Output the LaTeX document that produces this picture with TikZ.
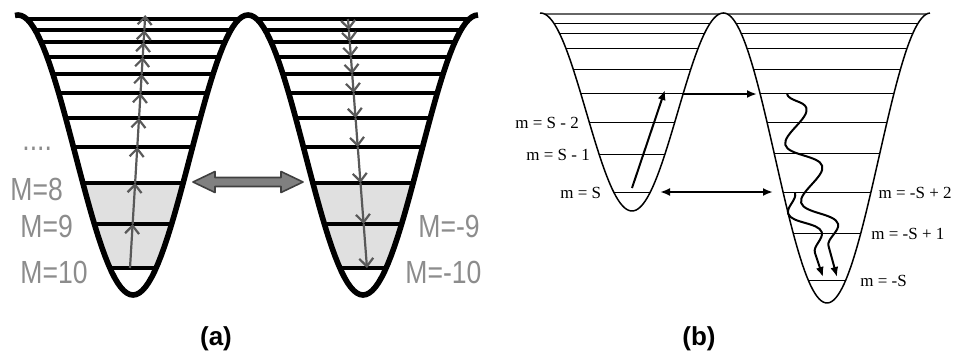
\documentclass[tikz,border=0pt]{standalone}
\usepackage{fontspec}
\usepackage{graphicx}
\setmainfont{Liberation Serif}
\newfontfamily\labelsans{Liberation Sans}
\usetikzlibrary{arrows.meta,decorations.pathmorphing}
\newcommand{\sqz}[1]{\scalebox{0.83}[1]{#1}}

\begin{document}
\begin{tikzpicture}[x=0.5pt,y=-0.5pt,
  >={Latex[length=5pt,width=4pt]},
  wella/.style={line width=2.8pt,line join=round},
  levela/.style={line width=1.8pt},
  hopa/.style={draw=black!65,line width=1.1pt,-{Straight Barb[length=4pt,width=7pt]}},
  mlabel/.style={anchor=base west,inner sep=0pt,text=black!45,font=\labelsans\fontsize{16pt}{16pt}\selectfont},
  wellb/.style={line width=0.75pt},
  levelb/.style={line width=0.45pt},
  slabel/.style={anchor=base west,inner sep=0pt,font=\fontsize{8.5pt}{9pt}\selectfont},
  tunnel/.style={line width=1pt},
  relax/.style={line width=1pt,->,decorate,decoration={snake,amplitude=7.5pt,segment length=30pt,post length=5pt}},
  panel/.style={font=\labelsans\bfseries\fontsize{13pt}{13pt}\selectfont}]
\useasboundingbox (0,0) rectangle (955,354);

% (a) shaded lowest levels
\begin{scope}
\clip plot[domain=15:478,samples=150] (\x,{155+140*cos(1.56522*(\x-133))}) -- (478,0) -- (15,0) -- cycle;
\fill[black!12] (0,183) rectangle (480,268);
\end{scope}
\foreach \L in {19,30,42,57,74,93,118,147,183,224,268} {
  \pgfmathsetmacro{\d}{230/360*acos((\L-155)/140)}
  \draw[levela] (133-\d,\L) -- (133+\d,\L);
  \draw[levela] (363-\d,\L) -- (363+\d,\L);
}
\draw[wella] plot[domain=15:478,samples=150] (\x,{155+140*cos(1.56522*(\x-133))});
% climbing and falling through the levels
\foreach \a/\b in {268/224,224/183,183/147,147/118,118/93,93/74,74/57,57/42,42/30,30/15} {
  \draw[hopa] ({130+(268-\a)*15/249},\a) -- ({130+(268-\b)*15/249},\b);
}
\foreach \a/\b in {268/224,224/183,183/147,147/118,118/93,93/74,74/57,57/42,42/30,30/19} {
  \draw[hopa] ({348+(\b-19)*19/249},\b) -- ({348+(\a-19)*19/249},\a);
}
\filldraw[fill=black!50,draw=black!75,line width=0.8pt,line join=round]
  (193,182) -- (215,171.5) -- (215,177.5) -- (281,177.5) -- (281,171.5) -- (303,182)
  -- (281,192.5) -- (281,186.5) -- (215,186.5) -- (215,192.5) -- cycle;
\node[mlabel] (dots) at (22,150) {\sqz{....}};
\node[mlabel] (m8) at (10,200) {\sqz{M=8}};
\node[mlabel] (m9) at (20,237) {\sqz{M=9}};
\node[mlabel] (m10) at (20,283) {\sqz{M=10}};
\node[mlabel] (mm9) at (418,237) {\sqz{M=-9}};
\node[mlabel] (mm10) at (405,283) {\sqz{M=-10}};
\node[panel] (capa) at (216,339) {(a)};

% (b) asymmetric wells
\draw[black!60,line width=1.2pt] (545,14) -- (719,14) (728,14) -- (926,14);
\foreach \L in {23,33,48,69,93,122,154,192} {
  \pgfmathsetmacro{\d}{183/360*acos((\L-112)/99)}
  \draw[levelb] (632-\d,\L) -- (632+\d,\L);
}
\foreach \L in {23,33,48,69,93,122,153,192,233,280} {
  \pgfmathsetmacro{\d}{207/360*acos((\L-158)/145)}
  \draw[levelb] (827-\d,\L) -- (827+\d,\L);
}
\draw[wellb] plot[domain=540:723,samples=100] (\x,{112+99*cos(1.96721*(\x-632))})
  -- plot[domain=723:930,samples=100] (\x,{158+145*cos(1.73913*(\x-827))});
\coordinate (s0) at (632,188);
\coordinate (s2) at (665,90);
\coordinate (t0) at (683,94);
\coordinate (t1) at (757,94);
\coordinate (u0) at (660,192);
\coordinate (u1) at (773,192);
\draw[tunnel,->] (s0) -- (s2);
\draw[tunnel,->] (t0) -- (t1);
\draw[tunnel,<->] (u0) -- (u1);
\coordinate (w0) at (787,94);
\coordinate (w1) at (837,277);
\coordinate (v0) at (795,193);
\coordinate (v1) at (823,277);
\draw[relax] (w0) -- (w1);
\draw[relax,decoration={amplitude=-6.5pt,segment length=28pt}] (v0) -- (v1);
\node[slabel] (sm2) at (515,128) {m = S - 2};
\node[slabel] (sm1) at (526,160) {m = S - 1};
\node[slabel] (s) at (560,198) {m = S};
\node[slabel,anchor=base east] (ms2) at (952,198) {m = -S + 2};
\node[slabel] (ms1) at (871,239) {m = -S + 1};
\node[slabel] (ms) at (860,286) {m = -S};
\node[panel] (capb) at (699,339) {(b)};
\end{tikzpicture}
\end{document}
